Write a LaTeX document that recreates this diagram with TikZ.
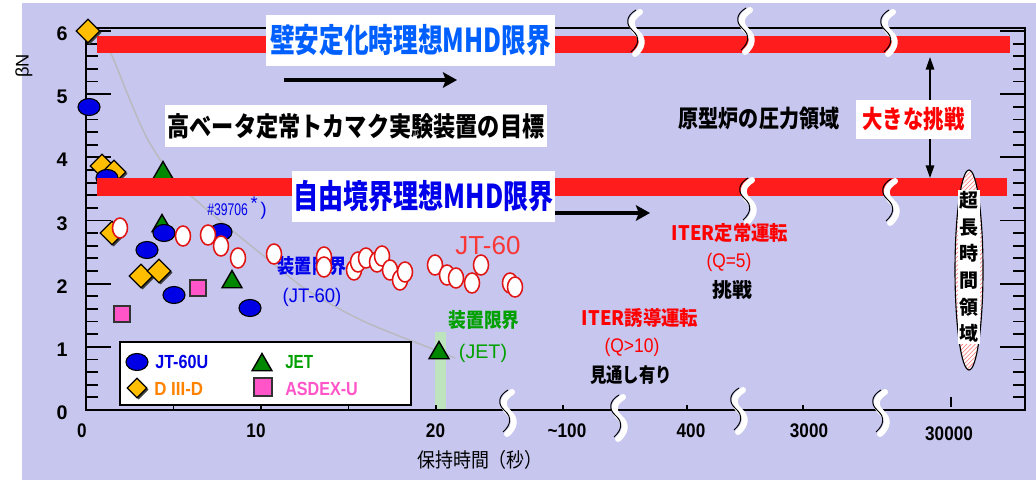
\documentclass[tikz,border=0pt]{standalone}
\usepackage{fontspec}
\usepackage{graphicx}
\setmainfont{Liberation Sans}
\newfontfamily\jp{Noto Sans CJK JP}
\usetikzlibrary{shapes.geometric,arrows.meta,shadows,patterns}

\definecolor{lav}{RGB}{198,198,238}
\definecolor{bandred}{RGB}{255,28,28}
\definecolor{jblue}{RGB}{0,0,230}
\definecolor{jred}{RGB}{225,20,20}
\definecolor{jtred}{RGB}{250,55,55}
\definecolor{jgreen}{RGB}{0,135,0}
\definecolor{tgreen}{RGB}{0,160,0}
\definecolor{dorange}{RGB}{255,190,0}
\definecolor{torange}{RGB}{255,130,0}
\definecolor{apink}{RGB}{255,85,200}
\definecolor{skyblue}{RGB}{0,95,255}
\definecolor{limblue}{RGB}{0,0,235}
\definecolor{iterred}{RGB}{255,0,0}
\definecolor{curvegray}{RGB}{185,185,190}
\definecolor{barbg}{RGB}{190,228,190}

\newcommand{\px}{0.025cm}
\newcommand{\fs}[1]{\fontsize{#1}{#1}\selectfont}
\newcommand{\sx}[2]{\scalebox{#1}[1]{#2}}

\begin{document}
\begin{tikzpicture}
[x=0.025cm,y=-0.025cm,
  axis/.style={line width=1.3pt},
  lab/.style={inner sep=0pt},
  jtu/.style={ellipse,draw=black,fill=jblue,line width=0.8pt,
    minimum width=22*\px,minimum height=17*\px,inner sep=0pt},
  jtsix/.style={ellipse,draw=jred,fill=white,line width=1.1pt,
    minimum width=15*\px,minimum height=20*\px,inner sep=0pt},
  jet/.style={regular polygon,regular polygon sides=3,draw=black,
    fill=jgreen,line width=1pt,minimum size=23*\px,inner sep=0pt},
  diiid/.style={diamond,draw=black,fill=dorange,line width=0.8pt,
    minimum size=24*\px,inner sep=0pt,
    drop shadow={shadow xshift=1.2pt,shadow yshift=-1.2pt,opacity=1,fill=black!75}},
  asdex/.style={rectangle,draw=black!80,fill=apink,line width=0.8pt,
    minimum size=16*\px,inner sep=0pt},
  whitebox/.style={rectangle,fill=white,inner sep=0pt},
  fatarrow/.style={line width=4*\px,-{Stealth[length=10pt,width=11pt,inset=2pt]}},
  thinarrow/.style={line width=1.1pt,{Triangle[length=9pt,width=6pt]}-{Triangle[length=9pt,width=6pt]}},
  brk/.pic={
    \draw[white,line width=6*\px,line cap=round]
      (5,-20) .. controls (-5,-14) and (-6,-6) .. (2,1) .. controls (9,7) and (8,15) .. (0,22);
    \draw[black,line width=0.7pt]
      (1,-22) .. controls (-9,-16) and (-10,-8) .. (-2,-1) .. controls (5,5) and (4,13) .. (-4,20);
  }]
\useasboundingbox (0,0) rectangle (1036,480);
\fill[white] (0,0) rectangle (1036,480);
\fill[lav] (22,3) rectangle (1036,480);

%% device limit curve and JET bar
\draw[curvegray,line width=1pt] plot[smooth] coordinates {(106,45) (113,58) (130,100)
  (148,140) (175,180) (205,208) (265,257) (307,290) (363,321) (430,348) (455,358)};
\fill[barbg] (435,332) rectangle (446,410);

%% frame and ticks
\draw[axis] (86,28) rectangle (1025,410);
\foreach \i in {0,...,30}{
  \pgfmathsetmacro{\yy}{410-12.633*\i}
  \pgfmathtruncatemacro{\mj}{mod(\i,5)}
  \ifnum\mj=0 \def\tl{25}\else\def\tl{12}\fi
  \draw[axis] (86,\yy) -- ++(\tl,0) (1025,\yy) -- ++(-\tl,0);
}
\foreach \x in {173.5,261,348.5,436,563,687,803}
  \draw[line width=1pt] (\x,410) -- ++(0,-5);
\draw[line width=1pt] (951,397) -- (951,407);

%% tick labels
\foreach \v in {0,...,6}
  \node[lab] (y\v) at (62,{413-63.2*\v}) {\fs{14}\bfseries \v};
\foreach \t/\x/\nm in {0/82/a,10/256/b,20/435.5/c,\textasciitilde100/567/d,400/691/e,3000/809/f}
  \node[lab] (x\nm) at (\x,431) {\fs{14}\bfseries\sx{0.87}{\t}};
\node[lab] (xg) at (949,434) {\fs{14}\bfseries\sx{0.87}{30000}};
\node[lab,rotate=90] (ylab) at (24,66) {\fs{13}βN};
\node[lab] (xlab) at (480,460) {\jp\fs{14.2}\sx{0.9}{保持時間（秒）}};

%% legend
\node[draw=black,fill=white,line width=1.2pt,minimum width=291*\px,
  minimum height=63*\px,inner sep=0pt] (legend) at (265.5,373.5) {};
\node[jtu] (lg1) at (137,362) {};
\node[jet] (lg2) at (262,365) {};
\node[diiid,minimum size=20*\px] (lg3) at (137,388) {};
\node[asdex,minimum size=18*\px] (lg4) at (263,387) {};
\node[lab,anchor=west,text=jblue] (lt1) at (155,362) {\fs{13.5}\bfseries\sx{0.85}{JT-60U}};
\node[lab,anchor=west,text=tgreen] (lt2) at (285,362) {\fs{13.5}\bfseries\sx{0.8}{JET}};
\node[lab,anchor=west,text=torange] (lt3) at (154,389) {\fs{13.5}\bfseries\sx{0.89}{D III-D}};
\node[lab,anchor=west,text=apink] (lt4) at (285,389) {\fs{13.5}\bfseries\sx{0.85}{ASDEX-U}};

%% labels under the data
\node[lab,text=limblue] (devjt) at (312,266) {\jp\bfseries\fs{14.2}\sx{0.86}{装置限界}};
\node[lab,text=limblue] (devjtb) at (312,297) {\fs{14}\sx{0.94}{(JT-60)}};

%% data points
\foreach \x/\y [count=\n] in {163/173,162/226,232/282,439/353}
  \node[jet] (jet\n) at (\x,\y) {};
\foreach \x/\y [count=\n] in {88/31,102/166,114/172,112/233,141/276,159/271}
  \node[diiid] (d\n) at (\x,\y) {};
\foreach \x/\y [count=\n] in {122/314,198/288}
  \node[asdex] (as\n) at (\x,\y) {};
\foreach \x/\y [count=\n] in {89/107,107/178,164/233,147/250,174/295,221/232,250/308}
  \node[jtu] (u\n) at (\x,\y) {};
\foreach \x/\y [count=\n] in {120/228,183/236,208/235,221/246,238/258,274/254,
  324/257,324/267,354/270,358/262,366/258,377/262,382/256,390/270,400/280,405/272,
  435/265,447/275,456/278,472/283,481/265,510/283,515/287}
  \node[jtsix] (s\n) at (\x,\y) {};

%% ideal MHD limits
\fill[bandred] (97,36) rectangle (1010,53);
\fill[bandred] (97,178) rectangle (1007,196);
\node[whitebox,minimum width=289*\px,minimum height=51*\px,text=skyblue] (wallbox)
  at (410.5,40.5) {\jp\bfseries\fs{23.4}\sx{0.75}{壁安定化時理想MHD限界}};
\node[whitebox,minimum width=263*\px,minimum height=51*\px,text=limblue] (freebox)
  at (423.5,196.5) {\jp\bfseries\fs{23.4}\sx{0.76}{自由境界理想MHD限界}};
\node[whitebox,minimum width=382*\px,minimum height=42*\px] (goalbox)
  at (356,126) {\jp\bfseries\fs{19}\sx{0.83}{高ベータ定常トカマク実験装置の目標}};
\node[lab] (demo) at (759,118) {\jp\bfseries\fs{17}\sx{0.84}{原型炉の圧力領域}};

%% arrows
\coordinate (upS) at (284,80);
\coordinate (upE) at (457,80);
\coordinate (lowS) at (555,213);
\coordinate (lowE) at (650,213);
\coordinate (chtop) at (930,57);
\coordinate (chbot) at (930,178);
\draw[fatarrow] (upS) -- (upE);
\draw[fatarrow] (lowS) -- (lowE);
\draw[thinarrow] (chtop) -- (chbot);
\node[whitebox,minimum width=115*\px,minimum height=39*\px,text=iterred] (chal)
  at (913.5,119.5) {\jp\bfseries\fs{17.7}\sx{0.82}{大きな挑戦}};

%% axis breaks
\foreach \x/\y in {635/32,745/30,888/32,747/200,890/201,507/412,618/417,738/410,880/412}
  \pic at (\x,\y) {brk};

%% long pulse region
\node[ellipse,draw=black,line width=0.8pt,minimum width=28*\px,minimum height=200*\px,
  preaction={fill=white},pattern=north east lines,pattern color=red!55] (ultra) at (969,270) {};
\node[fill=white,inner sep=1pt,align=center,
  font=\jp\bfseries\fontsize{13.5}{18.9}\selectfont] (ultratxt) at (969,267)
  {超\\長\\時\\間\\領\\域};

%% other labels
\node[lab,anchor=west,text=limblue] (shot) at (207,208)
  {\fs{12}\sx{0.72}{\#39706}\,\raisebox{4pt}{\fs{13}*}\,\fs{13})};
\node[lab,text=jtred] (jt60lab) at (488,246) {\fs{18.5}JT-60};
\node[lab,text=tgreen] (devjet) at (484,320) {\jp\bfseries\fs{14.2}\sx{0.89}{装置限界}};
\node[lab,text=tgreen] (devjetb) at (483,353) {\fs{14}(JET)};
\node[lab,text=iterred] (iters) at (730,233) {\jp\bfseries\fs{14.2}\sx{0.92}{ITER定常運転}};
\node[lab,text=iterred] (itersq) at (729,262) {\fs{14}\sx{0.88}{(Q=5)}};
\node[lab] (iterst) at (732,290) {\jp\bfseries\fs{14.2}挑戦};
\node[lab,text=iterred] (iteri) at (640,318) {\jp\bfseries\fs{14.2}\sx{0.92}{ITER誘導運転}};
\node[lab,text=iterred] (iteriq) at (632,347) {\fs{14}\sx{0.89}{(Q>10)}};
\node[lab] (iterit) at (631,375) {\jp\bfseries\fs{14.2}\sx{0.82}{見通し有り}};
\end{tikzpicture}
\end{document}
